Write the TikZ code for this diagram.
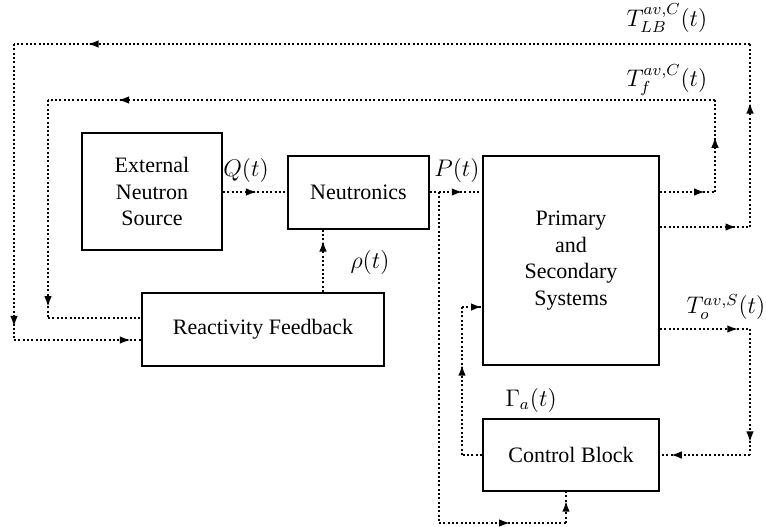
\documentclass[tikz,border=0pt]{standalone}
\usepackage{fontspec}
\setmainfont{Liberation Serif}
\usetikzlibrary{decorations.markings,arrows.meta}
\tikzset{
  blk/.style={draw,line width=1pt,inner sep=0pt,align=center,font=\fontsize{11}{13.3}\selectfont},
  flow/.style={line width=1pt,dash pattern=on 1pt off 1.15pt},
  ar/.style={postaction={decorate,decoration={markings,mark=at position #1 with {\arrow{Latex[length=5.5pt,width=3.8pt]}}}}},
  lbl/.style={font=\fontsize{12}{14}\selectfont,inner sep=0pt},
}
\begin{document}
\begin{tikzpicture}[x=0.5pt,y=-0.5pt]
\useasboundingbox (0,0) rectangle (766,526);
% blocks
\node[blk,minimum width=70pt,minimum height=58.5pt] (ext) at (152,191.5) {External\\Neutron\\Source};
\node[blk,minimum width=70.5pt,minimum height=36.5pt] (neu) at (358.5,192.5) {Neutronics};
\node[blk,minimum width=88pt,minimum height=104.5pt] (pri) at (571,260.5) {Primary\\and\\Secondary\\Systems};
\node[blk,minimum width=121pt,minimum height=36.5pt] (rea) at (263,329.5) {Reactivity Feedback};
\node[blk,minimum width=88pt,minimum height=36pt] (ctl) at (571,455) {Control Block};
% helper coordinates
\coordinate (yA) at (0,192);
\coordinate (xr) at (323,0);
\coordinate (a1) at (715,192);
\coordinate (a2) at (715,100);
\coordinate (a3) at (48,100);
\coordinate (a4) at (48,318);
\coordinate (b1) at (750,227);
\coordinate (b2) at (750,44);
\coordinate (b3) at (14,44);
\coordinate (b4) at (14,340);
\coordinate (c1) at (750,329);
\coordinate (c2) at (750,455);
\coordinate (d1) at (462,455);
\coordinate (d2) at (462,307);
\coordinate (p0) at (439,192);
\coordinate (p1) at (439,523);
\coordinate (p2) at (566,523);
% forward path
\draw[flow,ar=0.53] (ext.east |- yA) -- (neu.west |- yA);
\draw[flow,ar=0.63] (neu.east |- yA) -- (pri.west |- yA);
\draw[flow] (p0) -- (p1);
\draw[flow,ar=0.56] (p1) -- (p2);
\draw[flow,ar=0.72] (p2) -- (p2 |- ctl.south);
\draw[flow,ar=0.83] (xr |- rea.north) -- (xr |- neu.south);
% loop A (fuel temperature)
\draw[flow,ar=0.82] (pri.east |- a1) -- (a1);
\draw[flow,ar=0.6] (a1) -- (a2);
\draw[flow,ar=0.895] (a2) -- (a3);
\draw[flow,ar=0.95] (a3) -- (a4);
\draw[flow] (a4) -- (a4 -| rea.west);
% loop B (lead bismuth temperature)
\draw[flow,ar=0.85] (pri.east |- b1) -- (b1);
\draw[flow,ar=0.68] (b1) -- (b2);
\draw[flow,ar=0.9] (b2) -- (b3);
\draw[flow,ar=0.956] (b3) -- (b4);
\draw[flow,ar=0.92] (b4) -- (b4 -| rea.west);
% loop C (secondary temperature to control)
\draw[flow,ar=0.87] (pri.east |- c1) -- (c1);
\draw[flow,ar=0.9] (c1) -- (c2);
\draw[flow,ar=0.88] (c2) -- (c2 -| ctl.east);
% loop D (control to primary)
\draw[flow] (ctl.west |- d1) -- (d1);
\draw[flow,ar=0.61] (d1) -- (d2);
\draw[flow,ar=1] (d2) -- (d2 -| pri.west);
% labels
\node[lbl] (lq) at (246,170) {$Q(t)$};
\node[lbl] (lp) at (457,170) {$P(t)$};
\node[lbl] (lr) at (370,262) {$\rho(t)$};
\node[lbl] (llb) at (667,18) {$T_{LB}^{av,C}(t)$};
\node[lbl] (lf) at (667,80) {$T_{f}^{av,C}(t)$};
\node[lbl] (lo) at (726,307) {$T_{o}^{av,S}(t)$};
\node[lbl] (lg) at (531,400) {$\Gamma_a(t)$};
\end{tikzpicture}
\end{document}
